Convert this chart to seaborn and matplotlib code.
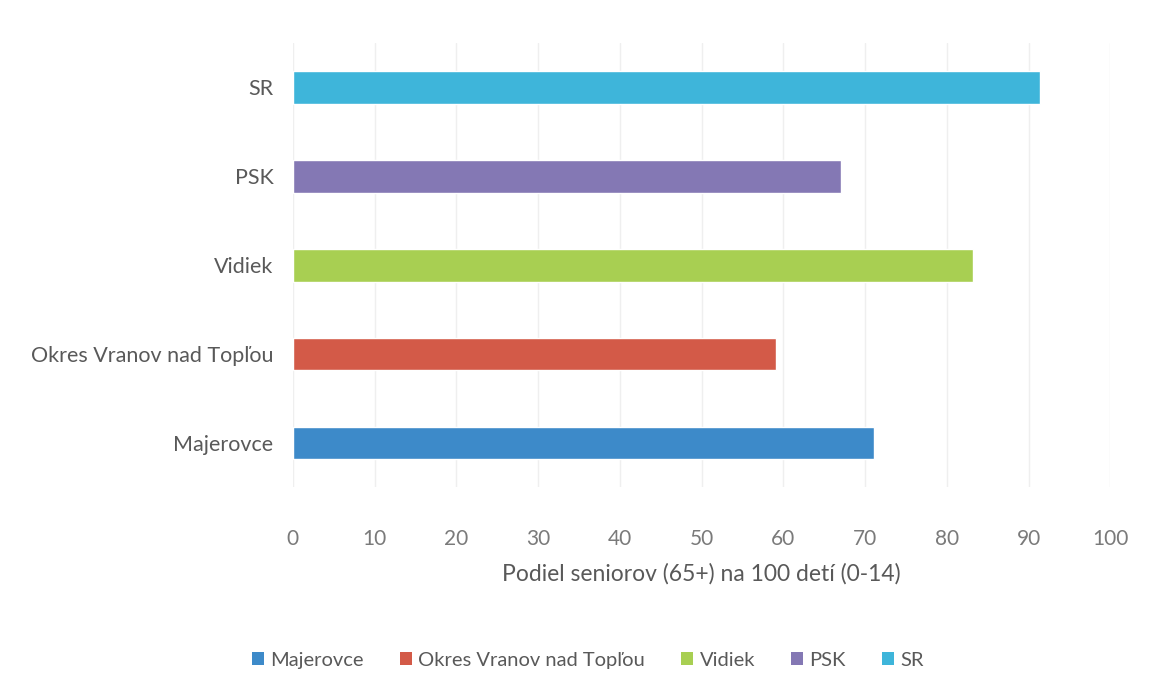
import pandas as pd
import matplotlib.pyplot as plt
import seaborn as sns
from matplotlib.patches import Patch

# Data
categories = ["Majerovce", "Okres Vranov nad Topľou", "Vidiek", "PSK", "SR"]
values = [71.1, 59.1, 83.2, 67.1, 91.4]
colors = ["#3d8ac9", "#d35a48", "#a8cf52", "#8478b4", "#3eb5da"]
x_ticks = [0, 10, 20, 30, 40, 50, 60, 70, 80, 90, 100]

df = pd.DataFrame({"kategoria": categories, "hodnota": values})
order = categories[::-1]  # SR on top
palette = dict(zip(categories, colors))

sns.set_theme(style="white")
plt.rcParams["font.family"] = ["Lato", "DejaVu Sans"]
text_color = "#595959"

fig = plt.figure(figsize=(11.53, 6.77), dpi=100)
ax = fig.add_axes([0.254, 0.280, 0.709, 0.657])

sns.barplot(
    data=df,
    x="hodnota",
    y="kategoria",
    hue="kategoria",
    order=order,
    hue_order=categories,
    palette=palette,
    width=0.37,
    legend=False,
    saturation=1,
    ax=ax
)

ax.set_xlim(0, 100)
ax.set_xticks(x_ticks)
ax.grid(axis="x", color="#efefef", linewidth=1)
ax.set_axisbelow(True)
for s in ax.spines.values():
    s.set_visible(False)
ax.tick_params(axis="y", length=0, labelsize=15.5, colors=text_color, pad=14)
ax.tick_params(axis="x", length=0, labelsize=15, colors="#7a7a7a", pad=30)
ax.set_ylabel("")
ax.set_xlabel("Podiel seniorov (65+) na 100 detí (0-14)", fontsize=16.5,
              color=text_color, labelpad=10)

handles = [Patch(facecolor=palette[c], edgecolor="none", label=c) for c in categories]
fig.legend(
    handles=handles,
    loc="center",
    bbox_to_anchor=(0.51, 0.025),
    ncol=5,
    frameon=False,
    fontsize=14.5,
    handlelength=0.6,
    handleheight=0.6,
    handletextpad=0.3,
    columnspacing=1.8,
    labelcolor=text_color
)

fig.savefig("out.png", dpi=100)
